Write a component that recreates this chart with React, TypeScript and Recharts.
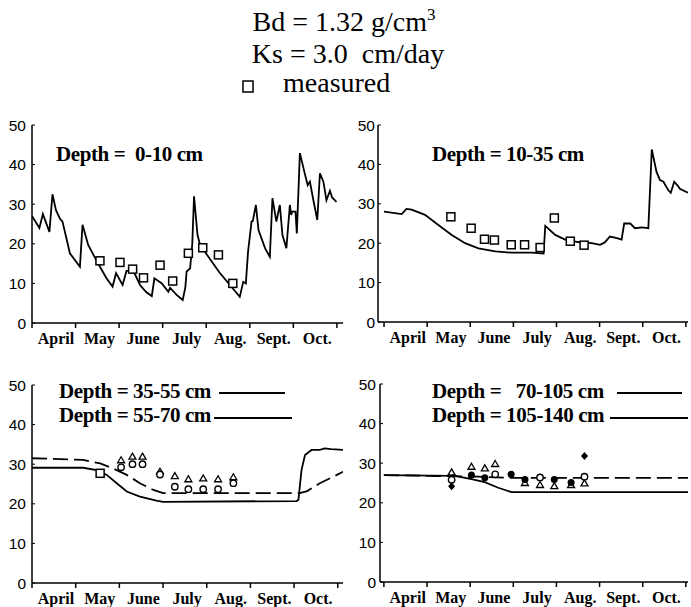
import React from 'react';
import { ComposedChart, Line, Scatter, XAxis, YAxis } from 'recharts';

// x = months since April 1, y = water content (%)
const MONTHS = ['April', 'May', 'June', 'July', 'Aug.', 'Sept.', 'Oct.'];
const MONTH_EDGES = [0, 1, 2, 3, 4, 5, 6, 7];
const Y_TICKS = [0, 10, 20, 30, 40, 50];

const sim0to10 = [
  [0, 27], [0.17, 24], [0.25, 27.5], [0.4, 23], [0.47, 32.5], [0.55, 28.5], [0.64, 26.4], [0.7, 25.6],
  [0.87, 17.6], [1.1, 14.2], [1.16, 24.8], [1.29, 19.7], [1.41, 17.2], [1.56, 14.2], [1.71, 11.3],
  [1.85, 9.2], [1.93, 12.6], [2.08, 9.6], [2.17, 13.2], [2.25, 13], [2.3, 13.8], [2.48, 9.6],
  [2.62, 7.8], [2.75, 6.8], [2.81, 11.3], [2.98, 10], [3.13, 7.9], [3.17, 8.9], [3.32, 7.1],
  [3.46, 5.8], [3.52, 9], [3.55, 13], [3.63, 13.8], [3.68, 20], [3.72, 32], [3.8, 22.2], [3.86, 19.7],
  [4.3, 12.8], [4.77, 6.6], [4.85, 10.4], [4.91, 10], [4.96, 18], [5.04, 25.6], [5.07, 25.8],
  [5.14, 29.8], [5.2, 23.5], [5.35, 18.9], [5.46, 16.7], [5.52, 31.5], [5.61, 25.6], [5.69, 29.8],
  [5.75, 22.2], [5.84, 18.9], [5.92, 29.8], [5.95, 27.3], [5.97, 28.1], [6.05, 28.1], [6.08, 22.6],
  [6.15, 42.9], [6.27, 37.4], [6.33, 34.8], [6.38, 35.7], [6.46, 31], [6.55, 26], [6.61, 37.8],
  [6.69, 35.7], [6.76, 31], [6.84, 33.4], [6.89, 31.7], [6.99, 30.6],
];
const meas0to10 = [
  [1.56, 15.7], [2.02, 15.3], [2.31, 13.6], [2.56, 11.4], [2.94, 14.6],
  [3.23, 10.6], [3.59, 17.6], [3.92, 19], [4.28, 17.2], [4.61, 10],
];

const sim10to35 = [
  [0, 28], [0.41, 27.4], [0.52, 28.7], [0.64, 28.5], [0.95, 27.2], [1.26, 24.6], [1.57, 22.1],
  [1.88, 20], [2.19, 18.7], [2.58, 17.9], [2.96, 17.6], [3.43, 17.6], [3.7, 17.4], [3.74, 24.4],
  [3.97, 22.1], [4.2, 20.9], [4.51, 20.3], [4.82, 20], [5.01, 19.6], [5.12, 20.2], [5.24, 21.7],
  [5.4, 21.3], [5.51, 20.9], [5.57, 25], [5.71, 25], [5.82, 23.8], [5.98, 24], [6.13, 23.8],
  [6.21, 43.8], [6.32, 38.1], [6.4, 36], [6.48, 35.6], [6.59, 33.5], [6.65, 32.8], [6.73, 35.6],
  [6.82, 34.5], [6.86, 33.8], [7.05, 32.8],
];
const meas10to35 = [
  [1.55, 26.7], [2.02, 23.8], [2.33, 21], [2.56, 20.8], [2.95, 19.6],
  [3.26, 19.6], [3.62, 18.9], [3.95, 26.4], [4.32, 20.5], [4.64, 19.5],
];

const sim35to55 = [
  [0, 29.1], [1.17, 29.1], [1.48, 28.5], [1.71, 27.3], [1.94, 25.2], [2.17, 23.1], [2.47, 21.8],
  [2.85, 20.8], [3, 20.5], [6.06, 20.7], [6.1, 21], [6.17, 28.5], [6.25, 32.3], [6.4, 33.6],
  [6.59, 33.6], [6.7, 34], [6.85, 33.8], [7.12, 33.6],
];
const sim55to70 = [
  [0, 31.5], [1.17, 31.1], [1.56, 30.2], [1.86, 28.9], [2.17, 27.3], [2.47, 25.2], [2.78, 23.5],
  [3, 22.7], [6.13, 22.7], [6.3, 23.2], [6.59, 25.2], [6.89, 26.8], [7.12, 28.1],
];
const meas35Square = [[1.56, 27.7]];
const meas35Tri = [
  [2.04, 31], [2.3, 31.9], [2.53, 31.9], [2.93, 28.1], [3.27, 27],
  [3.58, 26.2], [3.92, 26.4], [4.26, 26.2], [4.61, 26.7],
];
const meas35Circle = [
  [2.04, 29.2], [2.3, 30], [2.53, 30], [2.93, 27.4], [3.27, 24.3],
  [3.58, 23.7], [3.92, 23.7], [4.26, 23.7], [4.61, 25.2],
];

const sim70to105 = [[0, 27], [1.65, 26.8], [2.03, 26], [2.34, 25.2], [2.65, 23.8], [2.96, 22.7], [7.05, 22.7]];
const sim105to140 = [[0, 27], [2.19, 26.6], [2.96, 26.3], [7.05, 26.3]];
const meas70Tri = [
  [1.57, 27.7], [2.03, 29.1], [2.34, 28.7], [2.58, 29.8], [3.27, 25],
  [3.62, 24.5], [3.95, 24.2], [4.34, 24.5], [4.65, 24.9],
];
const meas70Circle = [[1.57, 25.8], [2.58, 27.2], [3.62, 26.4], [4.65, 26.6]];
const meas70Dot = [[2.03, 27], [2.34, 26.3], [2.95, 27.2], [3.27, 25.9], [3.95, 25.9], [4.34, 25.1]];
const meas70Diamond = [[1.57, 24.2], [4.65, 31.8]];

const toPts = (arr: number[][]) => arr.map(([m, v]) => ({ m, v }));

const SERIF = "'Liberation Serif', 'Times New Roman', serif";
const SANS = "'Liberation Sans', Arial, sans-serif";
const axisStyle = { stroke: '#000', strokeWidth: 1.5 };

const OpenSquare = ({ cx, cy }: any) => (
  <rect x={cx - 4} y={cy - 4} width={8} height={8} fill="#fff" stroke="#000" strokeWidth={1.5} />
);
const OpenTriangle = ({ cx, cy }: any) => (
  <path d={`M${cx},${cy - 3.5}L${cx + 3.5},${cy + 2.5}L${cx - 3.5},${cy + 2.5}Z`} fill="#fff" stroke="#000" strokeWidth={1.3} />
);
const OpenCircle = ({ cx, cy }: any) => <circle cx={cx} cy={cy} r={3.2} fill="#fff" stroke="#000" strokeWidth={1.4} />;
const FilledCircle = ({ cx, cy }: any) => <circle cx={cx} cy={cy} r={3.5} fill="#000" />;
const FilledDiamond = ({ cx, cy }: any) => (
  <path d={`M${cx},${cy - 4}L${cx + 3.5},${cy}L${cx},${cy + 4}L${cx - 3.5},${cy}Z`} fill="#000" />
);

const MonthTick = ({ x, y, payload, step }: any) => {
  if (payload.value >= MONTHS.length) return <g />;
  return (
    <text x={x + step * 0.55} y={y + 16} textAnchor="middle" fontFamily={SERIF} fontWeight="bold" fontSize={16} fill="#000">
      {MONTHS[payload.value]}
    </text>
  );
};

const ValueTick = ({ x, y, payload, gap }: any) => (
  <g>
    <text x={x} y={y} dy={5.5} textAnchor="end" fontFamily={SANS} fontSize={15.5} fill="#000">
      {payload.value}
    </text>
    <line x1={x + gap} x2={x + gap + 3} y1={y} y2={y} stroke="#000" strokeWidth={1} />
  </g>
);

interface PanelCfg {
  left: number;
  top: number;
  width: number;
  height: number;
  mt: number;
  yWidth: number;
  xh: number;
  gap: number;
  domain: [number, number];
  rightAxis?: boolean;
}

const Panel = ({ cfg, children }: { cfg: PanelCfg; children: React.ReactNode }) => {
  const plotW = cfg.width - cfg.yWidth - 3;
  const step = plotW / (cfg.domain[1] - cfg.domain[0]);
  return (
    <div style={{ position: 'absolute', left: cfg.left, top: cfg.top }}>
      <ComposedChart width={cfg.width} height={cfg.height} margin={{ top: cfg.mt, right: 3, bottom: 0, left: 0 }}>
        <XAxis
          type="number"
          dataKey="m"
          domain={cfg.domain}
          ticks={MONTH_EDGES}
          interval={0}
          allowDataOverflow
          height={cfg.xh}
          tickSize={5}
          tickMargin={0}
          axisLine={axisStyle}
          tickLine={{ stroke: '#000', strokeWidth: 1.5 }}
          tick={(p: any) => <MonthTick {...p} step={step} />}
        />
        <YAxis
          type="number"
          dataKey="v"
          domain={[0, 50]}
          ticks={Y_TICKS}
          interval={0}
          width={cfg.yWidth}
          tickSize={0}
          tickMargin={cfg.gap}
          axisLine={axisStyle}
          tickLine={false}
          tick={(p: any) => <ValueTick {...p} gap={cfg.gap} />}
        />
        {cfg.rightAxis && (
          <YAxis
            yAxisId="r"
            orientation="right"
            mirror
            width={0}
            domain={[0, 50]}
            ticks={Y_TICKS}
            interval={0}
            tickSize={3}
            axisLine={axisStyle}
            tickLine={{ stroke: '#000', strokeWidth: 1 }}
            tickFormatter={() => ''}
          />
        )}
        {children}
      </ComposedChart>
    </div>
  );
};

const P1: PanelCfg = { left: 0, top: 100, width: 346, height: 250, mt: 25, yWidth: 32, xh: 27, gap: 6, domain: [0, 7.14], rightAxis: true };
const P2: PanelCfg = { left: 346, top: 100, width: 345, height: 250, mt: 25, yWidth: 32, xh: 28, gap: 3, domain: [-0.14, 7.05] };
const P3: PanelCfg = { left: 0, top: 360, width: 346, height: 247, mt: 25, yWidth: 32, xh: 24, gap: 6, domain: [0, 7.12], rightAxis: true };
const P4: PanelCfg = { left: 346, top: 360, width: 345, height: 247, mt: 24, yWidth: 34, xh: 25, gap: 4, domain: [-0.09, 7.05] };

const lineProps = { type: 'linear' as const, dataKey: 'v', stroke: '#000', strokeWidth: 1.8, dot: false, isAnimationActive: false };

export default function App() {
  return (
    <div style={{ position: 'absolute', left: 0, top: 0, width: 691, height: 607, background: '#fff' }}>
      <Panel cfg={P1}>
        <Line {...lineProps} data={toPts(sim0to10)} />
        <Scatter data={toPts(meas0to10)} shape={OpenSquare} isAnimationActive={false} />
      </Panel>
      <Panel cfg={P2}>
        <Line {...lineProps} data={toPts(sim10to35)} />
        <Scatter data={toPts(meas10to35)} shape={OpenSquare} isAnimationActive={false} />
      </Panel>
      <Panel cfg={P3}>
        <Line {...lineProps} data={toPts(sim35to55)} />
        <Line {...lineProps} data={toPts(sim55to70)} strokeDasharray="15 6" />
        <Scatter data={toPts(meas35Square)} shape={OpenSquare} isAnimationActive={false} />
        <Scatter data={toPts(meas35Tri)} shape={OpenTriangle} isAnimationActive={false} />
        <Scatter data={toPts(meas35Circle)} shape={OpenCircle} isAnimationActive={false} />
      </Panel>
      <Panel cfg={P4}>
        <Line {...lineProps} data={toPts(sim70to105)} />
        <Line {...lineProps} data={toPts(sim105to140)} strokeDasharray="15 6" />
        <Scatter data={toPts(meas70Tri)} shape={OpenTriangle} isAnimationActive={false} />
        <Scatter data={toPts(meas70Circle)} shape={OpenCircle} isAnimationActive={false} />
        <Scatter data={toPts(meas70Dot)} shape={FilledCircle} isAnimationActive={false} />
        <Scatter data={toPts(meas70Diamond)} shape={FilledDiamond} isAnimationActive={false} />
      </Panel>

      <svg width={691} height={607} style={{ position: 'absolute', left: 0, top: 0, pointerEvents: 'none' }}>
        <g fontFamily={SERIF} fill="#000">
          <text x={344} y={31} fontSize={28} textAnchor="middle">
            Bd = 1.32 g/cm<tspan fontSize={17} dy={-11}>3</tspan>
          </text>
          <text x={348} y={63} fontSize={28} textAnchor="middle" xmlSpace="preserve">Ks = 3.0  cm/day</text>
          <rect x={243} y={81} width={10} height={11} fill="#fff" stroke="#000" strokeWidth={1.5} />
          <text x={283} y={92} fontSize={28}>measured</text>
        </g>
        <g fontFamily={SERIF} fontWeight="bold" fontSize={21} fill="#000" letterSpacing={-0.4}>
          <text x={56} y={161} xmlSpace="preserve">Depth =  0-10 cm</text>
          <text x={432} y={161} xmlSpace="preserve">Depth = 10-35 cm</text>
          <text x={59} y={398} xmlSpace="preserve">Depth = 35-55 cm</text>
          <text x={59} y={422} xmlSpace="preserve">Depth = 55-70 cm</text>
          <text x={432} y={398} xmlSpace="preserve">Depth =   70-105 cm</text>
          <text x={432} y={422} xmlSpace="preserve">Depth = 105-140 cm</text>
        </g>
        <g stroke="#000" strokeWidth={2}>
          <line x1={219} x2={285} y1={393} y2={393} />
          <line x1={214} x2={292} y1={418} y2={418} />
          <line x1={617} x2={682} y1={393} y2={393} />
          <line x1={610} x2={688} y1={418} y2={418} />
        </g>
      </svg>
    </div>
  );
}
